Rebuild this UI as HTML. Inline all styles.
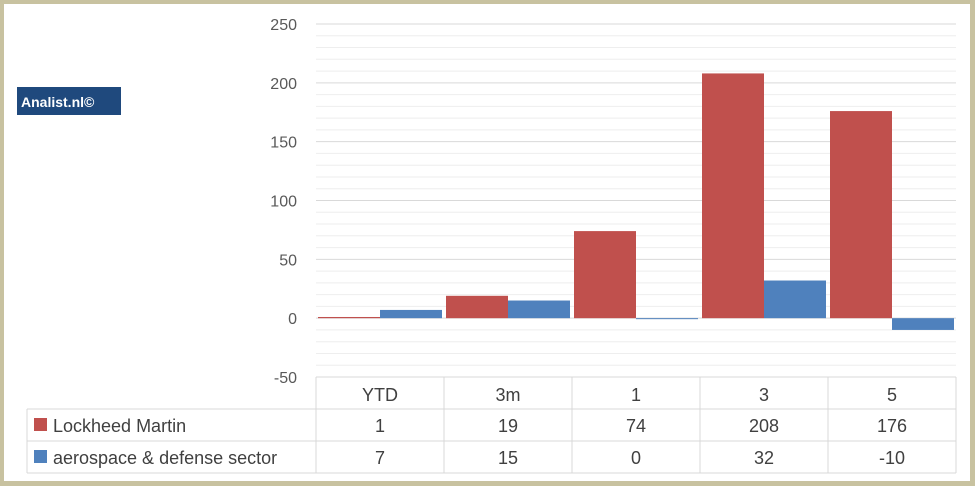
<!DOCTYPE html>
<html><head><meta charset="utf-8"><style>
body{margin:0;background:#fff;}
#frame{position:absolute;left:0;top:0;width:967px;height:478px;border:4px solid #c8c2a0;border-right-width:5px;border-bottom-width:5px;background:#fff;box-sizing:content-box;width:966px;height:477px;}
svg{position:absolute;left:0;top:0;font-family:"Liberation Sans",sans-serif;}
</style></head><body>
<div id="frame"></div>
<svg id="chart" width="975" height="486">
<rect x="17" y="87" width="104" height="28" fill="#1f497d"/>
<text x="21" y="107" font-size="14" font-weight="bold" fill="#fff">Analist.nl©</text>
<g id="grid"></g><g id="bars"></g><g id="table"></g>
</svg>
<script>
const categories=["YTD","3m","1","3","5"];
const seriesNames=["Lockheed Martin","aerospace & defense sector"];
const lockheed=[1,19,74,208,176];
const sector=[7,15,0,32,-10];
const yTicks=[250,200,150,100,50,0,-50];
const colors=["#c0504d","#4f81bd"];
const NS="http://www.w3.org/2000/svg";
const x0=316,colW=128,yMin=-50,yMax=250,yTop=24,yBot=377;
function y(v){return yBot-(v-yMin)/(yMax-yMin)*(yBot-yTop);}
function mk(tag,attrs,parent,txt){const e=document.createElementNS(NS,tag);for(const k in attrs)e.setAttribute(k,attrs[k]);if(txt!==undefined)e.textContent=txt;parent.appendChild(e);return e;}
const grid=document.getElementById('grid'),bars=document.getElementById('bars'),table=document.getElementById('table');
const xEnd=x0+colW*categories.length;
for(let v=yMin;v<=yMax;v+=10){
  const major=v%50===0;
  const l=mk('line',{x1:x0,x2:xEnd,y1:y(v),y2:y(v),stroke:major?'#d9d9d9':'#eeeeee','stroke-width':1},grid);
  
  
}
yTicks.forEach(v=>{
  const t=mk('text',{x:297,y:y(v)+6,'font-size':16,fill:'#595959','text-anchor':'end'},grid,String(v));
  
  
});
const series=[lockheed,sector];
categories.forEach((c,i)=>{
  series.forEach((s,j)=>{
    const bx=x0+i*colW+2+j*62;
    const v=s[i];
    const r=mk('rect',{x:bx,y:Math.min(y(v),y(0)),width:62,height:Math.max(Math.abs(y(v)-y(0)),1),fill:colors[j]},bars);
    
    
  });
});
// table
const tLeft=27,rows=[377,409,441,473];
const tb='#d9d9d9';
mk('line',{x1:x0,x2:xEnd,y1:377,y2:377,stroke:tb},table);
mk('line',{x1:tLeft,x2:xEnd,y1:409,y2:409,stroke:tb},table);
mk('line',{x1:tLeft,x2:xEnd,y1:441,y2:441,stroke:tb},table);
mk('line',{x1:tLeft,x2:xEnd,y1:473,y2:473,stroke:tb},table);
mk('line',{x1:tLeft,x2:tLeft,y1:409,y2:473,stroke:tb},table);
for(let i=0;i<=categories.length;i++){mk('line',{x1:x0+i*colW,x2:x0+i*colW,y1:377,y2:473,stroke:tb},table);}
categories.forEach((c,i)=>{
  const t=mk('text',{x:x0+i*colW+colW/2,y:401,'font-size':18,fill:'#404040','text-anchor':'middle'},table,c);
  
  
});
series.forEach((s,j)=>{
  const ry=rows[j+1];
  const k=mk('rect',{x:34,y:ry+9,width:13,height:13,fill:colors[j]},table);
  
  
  const n=mk('text',{x:53,y:ry+23,'font-size':18,fill:'#404040'},table,seriesNames[j]);
  
  
  s.forEach((v,i)=>{
    const t=mk('text',{x:x0+i*colW+colW/2,y:ry+23,'font-size':18,fill:'#404040','text-anchor':'middle'},table,String(v));
    
    
  });
});
</script>
</body></html>
